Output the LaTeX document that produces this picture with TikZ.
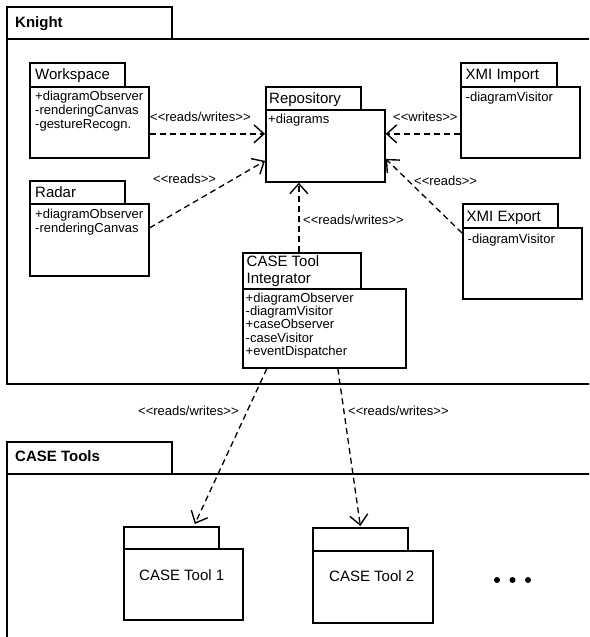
\documentclass[tikz,border=0pt]{standalone}
\usepackage{fontspec}
\setmainfont{Liberation Sans}
\usetikzlibrary{arrows.meta}

\tikzset{
	box/.style = {draw, line width=1.7pt, inner sep=0pt, anchor=north west},
	pkgname/.style = {anchor=base west, inner sep=0pt, font=\fontsize{15}{17}\selectfont},
	attr/.style = {anchor=base west, inner sep=0pt, align=left, font=\fontsize{13}{14}\selectfont},
	stereo/.style = {anchor=base west, inner sep=0pt, font=\fontsize{13}{14}\selectfont},
	rel/.style = {line width=1.3pt, dash pattern=on 6pt off 4pt, -{Straight Barb[length=10pt,width=18pt,line width=1.4pt]}}
}

\begin{document}
\begin{tikzpicture}[x=1pt, y=-1pt]
		\clip (0,0) rectangle (589,637);
		% Knight
		\node [box, minimum width=165, minimum height=32] (knighttab) at (6,6) {};
		\node [box, minimum width=600, minimum height=345] (knight) at (6,38) {};
		\node [pkgname, font=\fontsize{15}{17}\selectfont\bfseries] (knightname) at (15,27.5) {Knight};
		% Workspace
		\node [box, minimum width=95, minimum height=24] (wstab) at (29,62) {};
		\node [box, minimum width=119, minimum height=71] (ws) at (29,86) {};
		\node [pkgname] (wsname) at (35,79) {Workspace};
		\node [attr] (wsattr) at (35,128) {+diagramObserver\\-renderingCanvas\\-gestureRecogn.};
		% Repository
		\node [box, minimum width=95, minimum height=23] (repotab) at (265,86) {};
		\node [box, minimum width=119, minimum height=72] (repo) at (265,109) {};
		\node [pkgname] (reponame) at (269,103) {Repository};
		\node [attr] (repoattr) at (268,123) {+diagrams};
		% XMI Import
		\node [box, minimum width=96, minimum height=24] (imptab) at (460,62) {};
		\node [box, minimum width=119, minimum height=71] (imp) at (460,86) {};
		\node [pkgname] (impname) at (465.5,79) {XMI Import};
		\node [attr] (impattr) at (465.5,101) {-diagramVisitor};
		% Radar
		\node [box, minimum width=95, minimum height=23] (radartab) at (29,180) {};
		\node [box, minimum width=119, minimum height=72] (radar) at (29,203) {};
		\node [pkgname] (radarname) at (35,197.5) {Radar};
		\node [attr] (radarattr) at (35,232.5) {+diagramObserver\\-renderingCanvas};
		% XMI Export
		\node [box, minimum width=95, minimum height=24] (exptab) at (462,203) {};
		\node [box, minimum width=119, minimum height=71] (exp) at (462,227) {};
		\node [pkgname] (expname) at (466.5,221.5) {XMI Export};
		\node [attr] (expattr) at (467.5,243.5) {-diagramVisitor};
		% CASE Tool Integrator
		\node [box, minimum width=118, minimum height=36] (integtab) at (242,252) {};
		\node [box, minimum width=163, minimum height=79] (integ) at (242,288) {};
		\node [pkgname, align=left, font=\fontsize{15}{16.7}\selectfont] (integname) at (246.5,283.4) {CASE Tool\\Integrator};
		\node [attr, font=\fontsize{13}{13.2}\selectfont] (integattr) at (245.5,355.3) {+diagramObserver\\-diagramVisitor\\+caseObserver\\-caseVisitor\\+eventDispatcher};
		% CASE Tools
		\node [box, minimum width=165, minimum height=32] (toolstab) at (6,441) {};
		\node [box, minimum width=600, minimum height=200] (tools) at (6,473) {};
		\node [pkgname, font=\fontsize{15}{17}\selectfont\bfseries] (toolsname) at (15,461) {CASE Tools};
		\node [box, minimum width=95, minimum height=22] (tool1tab) at (123,526) {};
		\node [box, minimum width=119, minimum height=71] (tool1) at (123,548) {};
		\node [pkgname] (tool1name) at (139,580) {CASE Tool 1};
		\node [box, minimum width=95, minimum height=23] (tool2tab) at (312,527) {};
		\node [box, minimum width=120, minimum height=72] (tool2) at (312,550) {};
		\node [pkgname] (tool2name) at (329,581.5) {CASE Tool 2};
		\fill (497,580) circle (3pt) (512.5,580) circle (3pt) (528,580) circle (3pt);
		% dependencies
		\draw [rel] ([yshift=-11.5pt]ws.east) -- ([yshift=-11.5pt]ws.east -| repo.west);
		\draw [rel] ([yshift=12pt]radar.east) -- ([yshift=-15pt]repo.west);
		\draw [rel] ([yshift=-11.5pt]imp.west) -- ([yshift=-11.5pt]imp.west -| repo.east);
		\draw [rel] ([yshift=-6pt]exp.north west) -- ([yshift=-13pt]repo.east);
		\draw [rel] ([xshift=-3pt]integtab.north) -- ([xshift=-3pt]integtab.north |- repo.south);
		\draw [rel] ([xshift=-57.5pt]integ.south) -- ([xshift=23.5pt,yshift=2pt]tool1tab.north);
		\draw [rel] ([xshift=13.5pt]integ.south) -- ([yshift=1pt]tool2tab.north);
		\node [stereo] (wsrel) at (150,121.5) {<{}<reads/writes>{}>};
		\node [stereo] (radarrel) at (153,183.5) {<{}<reads>{}>};
		\node [stereo] (imprel) at (393,121.5) {<{}<writes>{}>};
		\node [stereo] (exprel) at (414,185.5) {<{}<reads>{}>};
		\node [stereo] (integrel) at (303,224) {<{}<reads/writes>{}>};
		\node [stereo] (tool1rel) at (138,415) {<{}<reads/writes>{}>};
		\node [stereo] (tool2rel) at (348,415.5) {<{}<reads/writes>{}>};
	\end{tikzpicture}
\end{document}
